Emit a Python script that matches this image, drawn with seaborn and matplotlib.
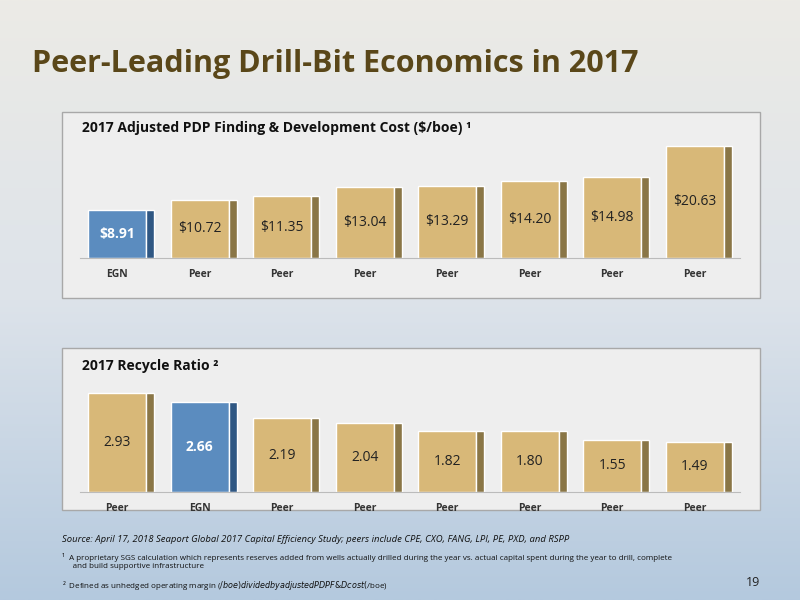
import numpy as np
import pandas as pd
import matplotlib.pyplot as plt
import seaborn as sns
from matplotlib.patches import Rectangle
from matplotlib.colors import LinearSegmentedColormap

sns.set_style("white")
plt.rcParams['font.family'] = ['Open Sans', 'DejaVu Sans']

fd_labels = ["EGN", "Peer", "Peer", "Peer", "Peer", "Peer", "Peer", "Peer"]
fd_values = [8.91, 10.72, 11.35, 13.04, 13.29, 14.20, 14.98, 20.63]
rr_labels = ["Peer", "EGN", "Peer", "Peer", "Peer", "Peer", "Peer", "Peer"]
rr_values = [2.93, 2.66, 2.19, 2.04, 1.82, 1.80, 1.55, 1.49]

TAN, TAN_SIDE = "#D8B878", "#8A7646"
BLUE, BLUE_SIDE = "#5B8CBF", "#2F5783"

fig = plt.figure(figsize=(8, 6), dpi=100)

# background gradient
bg = fig.add_axes([0, 0, 1, 1], zorder=-10)
grad = np.linspace(0, 1, 256).reshape(-1, 1)
cmap = LinearSegmentedColormap.from_list("bg", ["#ECEBE6", "#DDE3EA", "#B4C9DE"])
bg.imshow(grad, aspect="auto", cmap=cmap, extent=[0, 1, 0, 1], origin="upper")
bg.axis("off")

fig.text(0.04, 0.88, "Peer-Leading Drill-Bit Economics in 2017", fontsize=22,
         fontweight="bold", color="#5A4719")

# panel boxes
for y0, y1 in [(112, 298), (348, 510)]:
    fig.patches.append(Rectangle((62 / 800, 1 - y1 / 600), 698 / 800, (y1 - y0) / 600,
                                 transform=fig.transFigure, facecolor="#EEEEEE",
                                 edgecolor="#A8A8A8", lw=1, zorder=-5))


def draw(rect, labels, values, ymax, fmt):
    ax = fig.add_axes(rect)
    ax.set_facecolor("none")
    df = pd.DataFrame({"pos": [str(i) for i in range(len(values))], "v": values})
    cols = [BLUE if l == "EGN" else TAN for l in labels]
    sides = [BLUE_SIDE if l == "EGN" else TAN_SIDE for l in labels]
    sns.barplot(data=df, x="pos", y="v", hue="pos", palette=cols, legend=False,
                width=0.7, ax=ax, saturation=1)
    ax.bar(np.arange(len(values)) + 0.4, values, width=0.1, color=sides)
    for i, v in enumerate(values):
        ax.text(i, v * 0.5, fmt.format(v), ha="center", va="center",
                fontsize=10, color="white" if labels[i] == "EGN" else "#222222",
                fontweight="bold" if labels[i] == "EGN" else "normal")
    ax.set_xticks(range(len(values)))
    ax.set_xticklabels(labels, fontsize=7.5, fontweight="bold", color="#333333")
    ax.set_xlim(-0.45, len(values) - 0.45)
    ax.set_ylim(0, ymax)
    ax.set_yticks([])
    ax.set_xlabel("")
    ax.set_ylabel("")
    for s in ["top", "right", "left"]:
        ax.spines[s].set_visible(False)
    ax.spines["bottom"].set_color("#BBBBBB")
    ax.tick_params(axis="x", length=0, pad=8)
    return ax


draw([80 / 800, 1 - 258 / 600, 660 / 800, 118 / 600], fd_labels, fd_values, 21.7, "${:.2f}")
draw([80 / 800, 1 - 492 / 600, 660 / 800, 107 / 600], rr_labels, rr_values, 3.17, "{:.2f}")

fig.text(82 / 800, 1 - 128 / 600, "2017 Adjusted PDP Finding & Development Cost ($/boe) ¹",
         fontsize=10, fontweight="bold", color="#111111", va="center")
fig.text(82 / 800, 1 - 366 / 600, "2017 Recycle Ratio ²",
         fontsize=10, fontweight="bold", color="#111111", va="center")

fig.text(62 / 800, 1 - 540 / 600,
         "Source: April 17, 2018 Seaport Global 2017 Capital Efficiency Study; peers include CPE, CXO, FANG, LPI, PE, PXD, and RSPP",
         fontsize=6.8, style="italic", color="#111111", va="center")
fig.text(62 / 800, 1 - 562 / 600,
         "¹  A proprietary SGS calculation which represents reserves added from wells actually drilled during the year vs. actual capital spent during the year to drill, complete\n     and build supportive infrastructure",
         fontsize=5.8, color="#111111", va="center", linespacing=1.2)
fig.text(62 / 800, 1 - 585 / 600,
         "²  Defined as unhedged operating margin ($/boe) divided by adjusted PDP F&D cost ($/boe)",
         fontsize=5.8, color="#111111", va="center")
fig.text(760 / 800, 1 - 582 / 600, "19", fontsize=9, color="#222222", ha="right", va="center")

fig.savefig("out.png", dpi=100)
